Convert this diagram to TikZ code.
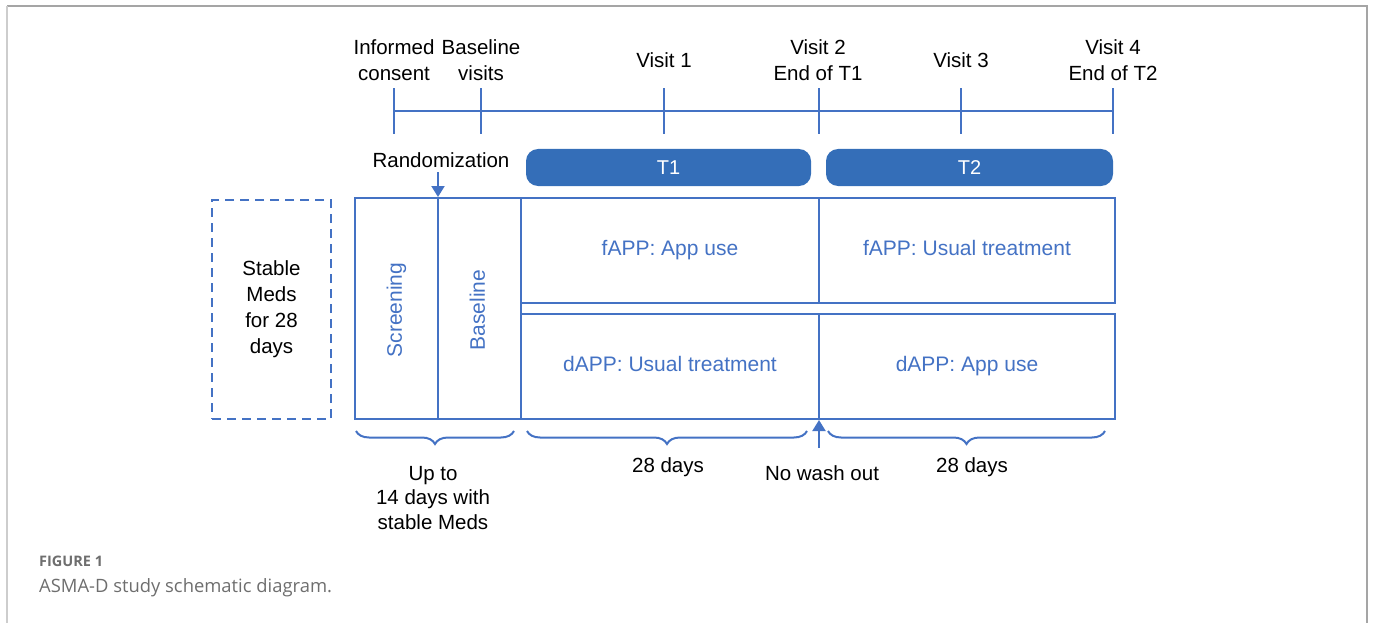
\documentclass[tikz,border=0pt]{standalone}
\usepackage{fontspec}
\setmainfont{Liberation Sans}
\newfontfamily\capfont{Open Sans}
\usetikzlibrary{arrows.meta,decorations.pathreplacing}
\definecolor{lblue}{RGB}{68,114,196}
\definecolor{bfill}{RGB}{52,110,184}
\definecolor{capgray}{RGB}{110,110,110}
\begin{document}
\begin{tikzpicture}[x=1pt,y=-1pt,
 lab/.style={font=\fontsize{20.5}{26}\selectfont, align=center, text=black, inner sep=0},
 bx/.style={draw=lblue, line width=2pt, rectangle, inner sep=0},
 btxt/.style={text=lblue, font=\fontsize{21}{25}\selectfont, inner sep=0, text height=15pt, text depth=4.5pt},
 bar/.style={fill=bfill, draw=none, rounded corners=12pt, text=white, font=\fontsize{20}{24}\selectfont, inner sep=0},
 ln/.style={draw=lblue, line width=2pt},
 brc/.style={draw=lblue, line width=2pt, decorate, decoration={brace,mirror,amplitude=13pt}},
 tipar/.style={draw=lblue, line width=2pt, -{Triangle[width=13pt,length=11pt]}}
]
\useasboundingbox (0,0) rectangle (1373,623);
% frame
\draw[color={rgb,255:red,165;green,165;blue,165}, line width=1.6pt] (7,6) -- (1367,6) -- (1367,623);
\draw[color={rgb,255:red,205;green,205;blue,205}, line width=2.5pt] (7,6) -- (7,623);

% timeline
\coordinate (ta) at (394,111);
\coordinate (tb) at (481,111);
\coordinate (tc) at (664,111);
\coordinate (td) at (819,111);
\coordinate (te) at (961,111);
\coordinate (tf) at (1113,111);
\draw[ln] (ta) -- (tf);
\foreach \t in {ta,tb,tc,td,te,tf}{
  \draw[ln] ([yshift=-23pt]\t) -- ([yshift=23pt]\t);
}
\node[lab] (la) at (394,60) {Informed\\consent};
\node[lab] (lb) at (481,60) {Baseline\\visits};
\node[lab] (lc) at (664,60) {Visit 1};
\node[lab] (ld) at (818,60) {Visit 2\\End of T1};
\node[lab] (le) at (961,60) {Visit 3};
\node[lab] (lf) at (1113,60) {Visit 4\\End of T2};

% treatment bars
\node[bar, minimum width=285pt, minimum height=37pt] (T1) at (668.5,167.5) {T1};
\node[bar, minimum width=287pt, minimum height=37pt] (T2) at (969.5,167.5) {T2};

% boxes
\node[bx, dashed, dash pattern=on 9pt off 6pt, minimum width=119pt, minimum height=219pt] (stable) at (271.5,309.5) {};
\node[lab] at (stable) {Stable\\Meds\\for 28\\days};
\node[bx, minimum width=83pt, minimum height=221pt] (screen) at (396.5,308.5) {};
\node[btxt, rotate=90] at ([yshift=-1.5pt]screen.center) {Screening};
\node[bx, minimum width=83pt, minimum height=221pt] (base) at (479.5,308.5) {};
\node[btxt, rotate=90] at ([yshift=-1.5pt]base.center) {Baseline};
\node[bx, minimum width=298pt, minimum height=105pt] (f1) at (670,250.5) {};
\node[btxt] at (f1) {fAPP: App use};
\node[bx, minimum width=296pt, minimum height=105pt] (f2) at (967,250.5) {};
\node[btxt] at (f2) {fAPP: Usual treatment};
\node[bx, minimum width=298pt, minimum height=105pt] (d1) at (670,366.5) {};
\node[btxt] at (d1) {dAPP: Usual treatment};
\node[bx, minimum width=296pt, minimum height=105pt] (d2) at (967,366.5) {};
\node[btxt] at (d2) {dAPP: App use};

% randomization
\node[lab] (rand) at (441,160) {Randomization};
\coordinate (rs) at (438,172);
\draw[tipar] (rs) -- (rs |- screen.north);

% braces
\coordinate (b1a) at (356,431);
\coordinate (b1b) at (514,431);
\coordinate (b2a) at (527,431);
\coordinate (b2b) at (807,431);
\coordinate (b3a) at (828,431);
\coordinate (b3b) at (1105,431);
\draw[brc] (b1a) -- (b1b);
\draw[brc] (b2a) -- (b2b);
\draw[brc] (b3a) -- (b3b);

% no wash out
\coordinate (nw) at (819,448);
\draw[tipar] (nw) -- (nw |- d1.south);

\node[lab, font=\fontsize{20.5}{24.5}\selectfont] (up) at (433,498) {Up to\\14 days with\\stable Meds};
\node[lab] (d28a) at (668,467) {28 days};
\node[lab] (nwt) at (822,473) {No wash out};
\node[lab] (d28b) at (972,467) {28 days};

% caption
\node[anchor=west, inner sep=0, text=capgray, font=\capfont\bfseries\fontsize{14.5}{17}\selectfont] (fig) at (39,561) {FIGURE 1};
\node[anchor=west, inner sep=0, text=capgray, font=\capfont\fontsize{18.4}{22}\selectfont] (cap) at (39,588) {ASMA-D study schematic diagram.};
\end{tikzpicture}
\end{document}
